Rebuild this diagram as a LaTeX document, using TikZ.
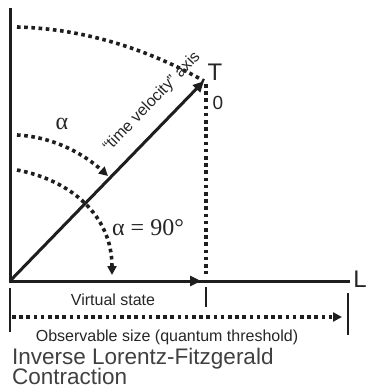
\documentclass[tikz,border=0pt]{standalone}
\usepackage{fontspec}
\setmainfont{Liberation Sans}
\newfontfamily\grserif{Liberation Serif}
\usetikzlibrary{arrows.meta}
\definecolor{ink}{HTML}{1E1E1E}
\definecolor{txt}{HTML}{262626}
\definecolor{ttl}{HTML}{404040}
\begin{document}
\begin{tikzpicture}[x=1pt,y=-1pt,
  axis/.style={draw=ink,line width=3pt},
  tick/.style={draw=ink,line width=2pt},
  dotline/.style={draw=ink,line width=3.6pt,dash pattern=on 3.6pt off 3.6pt},
  soltip/.style={-{Triangle[length=11pt,width=10pt]}},
  dottip/.style={-{Triangle[length=9pt,width=9pt]}},
  lbl/.style={inner sep=0pt,text=txt,font=\fontsize{16}{16}\selectfont},
  big/.style={inner sep=0pt,text=txt,font=\fontsize{24}{24}\selectfont},
  greek/.style={inner sep=0pt,text=txt,font=\grserif\fontsize{24}{24}\selectfont},
  title/.style={inner sep=0pt,text=ttl,font=\fontsize{22.5}{22.5}\selectfont,anchor=base west}]
\fill[white] (0,0) rectangle (368,389);
\useasboundingbox (0,0) rectangle (368,389);
% coordinates
\coordinate (O) at (10,281);
\coordinate (Ytop) at (10,8);
\coordinate (Lend) at (350,281);
\coordinate (Hmid) at (201,281);
\coordinate (T) at (204,81);
\coordinate (Vtop) at (206,84);
\coordinate (Vbot) at (206,274);
% axes
\draw[axis] (Ytop) -- (O) -- (Lend);
\draw[axis,soltip] (O) -- (Hmid);
\draw[axis,soltip] (O) -- (T);
% dotted projection
\draw[dotline] (Vtop) -- (Vbot);
% arcs
\coordinate (A1s) at (17,27);
\coordinate (A2s) at (17,135);
\coordinate (A2e) at (108,176);
\coordinate (A3s) at (17,170);
\coordinate (A3e) at (112,275);
\draw[dotline] (A1s) .. controls (95,29) and (160,56) .. (T);
\draw[dotline,dottip] (A2s) .. controls (55,137) and (85,155) .. (A2e);
\draw[dotline,dottip] (A3s) .. controls (70,180) and (112,215) .. (A3e);
% ticks
\coordinate (Tk1a) at (10,288); \coordinate (Tk1b) at (10,332);
\coordinate (Tk2a) at (348,293); \coordinate (Tk2b) at (348,335);
\coordinate (Tk3a) at (206,287); \coordinate (Tk3b) at (206,307);
\draw[tick] (Tk1a) -- (Tk1b);
\draw[tick] (Tk2a) -- (Tk2b);
\draw[tick] (Tk3a) -- (Tk3b);
% observable arrow
\coordinate (Bs) at (12,317);
\coordinate (Be) at (342,317);
\draw[dotline,dottip] (Bs) -- (Be);
% labels
\node[big] (lT) at (215,72) {T};
\node[inner sep=0pt,text=txt,font=\fontsize{19}{19}\selectfont] (l0) at (218,103) {0};
\node[big] (lL) at (360,279) {L};
\node[greek] (la1) at (62,124) {α};
\node[greek] (la2) at (148,228) {α = 90°};
\node[lbl,rotate=46] (ltv) at (152,102) {“time velocity” axis};
\node[lbl] (lvs) at (113,300) {Virtual state};
\node[lbl,anchor=base] (lobs) at (167,341) {Observable size (quantum threshold)};
\node[title] (lt1) at (12,364.5) {Inverse Lorentz-Fitzgerald};
\node[title] (lt2) at (12,384.5) {Contraction};
\end{tikzpicture}
\end{document}
